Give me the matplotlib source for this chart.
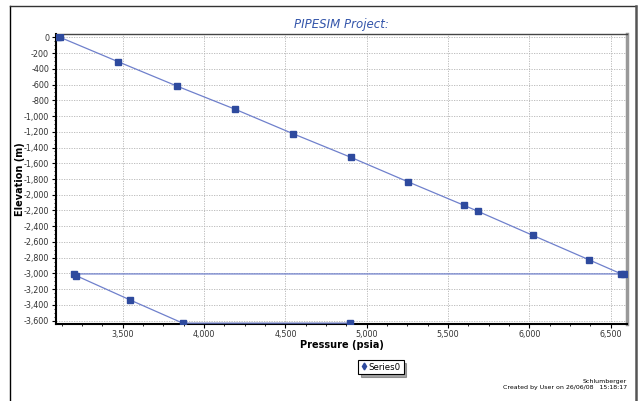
import numpy as np
import matplotlib
matplotlib.use("Agg")
import matplotlib.pyplot as plt
from matplotlib.lines import Line2D
from matplotlib.ticker import MultipleLocator, FuncFormatter

# data (path of the single series, in plot order)
pressure = [3105, 3115, 3473, 3834, 4190, 4545, 4903, 5252, 5600, 5682,
            6020, 6364, 6565, 6580, 3201, 3213, 3547, 3869, 4899]
elevation = [0, 0, -311, -620, -913, -1223, -1525, -1834, -2136, -2209,
             -2515, -2824, -3006, -3006, -3006, -3027, -3338, -3631, -3631]

title = "PIPESIM Project:"
x_label = "Pressure (psia)"
y_label = "Elevation (m)"
series_name = "Series0"
footer = ["Schlumberger", "Created by User on 26/06/08   15:18:17"]

line_color = "#6f80cc"
marker_color = "#2e4a9e"

fig = plt.figure(figsize=(6.44, 4.01), dpi=100)
ax = fig.add_axes([56 / 644, 1 - 324 / 401, (627 - 56) / 644, (324 - 34) / 401])

ax.plot(pressure, elevation, color=line_color, linewidth=0.9, marker="s",
        markersize=4.5, markerfacecolor=marker_color, markeredgecolor=marker_color,
        zorder=3)

ax.set_xlim(3090, 6600)
ax.set_ylim(-3642, 42)
ax.xaxis.set_major_locator(MultipleLocator(500))
ax.xaxis.set_minor_locator(MultipleLocator(125))
ax.yaxis.set_major_locator(MultipleLocator(200))
ax.yaxis.set_minor_locator(MultipleLocator(50))
fmt = FuncFormatter(lambda v, p: f"{v:,.0f}")
ax.xaxis.set_major_formatter(fmt)
ax.yaxis.set_major_formatter(fmt)

ax.grid(True, which="major", color="#b4b4b4", linestyle=(0, (1.5, 1.5)), linewidth=0.6)
ax.set_axisbelow(True)
ax.tick_params(which="major", direction="out", length=3, width=0.8,
               labelsize=5.8, labelcolor="#333333", pad=2)
ax.tick_params(which="minor", direction="out", length=1.5, width=0.6)
ax.tick_params(axis="x", pad=1.5)

ax.spines["left"].set_linewidth(1.5)
ax.spines["bottom"].set_linewidth(1.5)
ax.spines["top"].set_color("#444444")
ax.spines["top"].set_linewidth(1.0)
ax.spines["right"].set_color("#999999")
ax.spines["right"].set_linewidth(2.5)

ax.set_title(title, fontsize=8.5, style="italic", color="#3355aa", pad=4)
ax.set_xlabel(x_label, fontsize=7, fontweight="bold")
ax.set_ylabel(y_label, fontsize=7, fontweight="bold")
ax.xaxis.set_label_coords(0.5, -21 / 290, transform=ax.transAxes)
ax.yaxis.set_label_coords(-36 / 571, 0.5, transform=ax.transAxes)
ax.xaxis.label.set_va("center")
ax.yaxis.label.set_va("center")

handle = Line2D([], [], linestyle="none", marker="d", markersize=3.5,
                color=marker_color)
leg = fig.legend([handle], [series_name], loc="center",
                 bbox_to_anchor=(381 / 644, 1 - 367 / 401), fontsize=6.2,
                 frameon=True, fancybox=False, shadow=True, borderpad=0.3,
                 handlelength=0.6, handletextpad=0.3)
leg.get_frame().set_edgecolor("black")
leg.get_frame().set_linewidth(0.8)

fig.text(627 / 644, 1 - 382 / 401, footer[0], ha="right", va="center", fontsize=4.5)
fig.text(627 / 644, 1 - 388 / 401, footer[1], ha="right", va="center", fontsize=4.5)

# outer frame of the report page
fig.add_artist(Line2D([10 / 644, 10 / 644], [0, 1 - 6 / 401], color="black", linewidth=1.0))
fig.add_artist(Line2D([10 / 644, 636 / 644], [1 - 6 / 401, 1 - 6 / 401], color="#333333", linewidth=1.0))
fig.add_artist(Line2D([636 / 644, 636 / 644], [0, 1 - 6 / 401], color="#555555", linewidth=1.8))

fig.savefig("out.png", dpi=100)
